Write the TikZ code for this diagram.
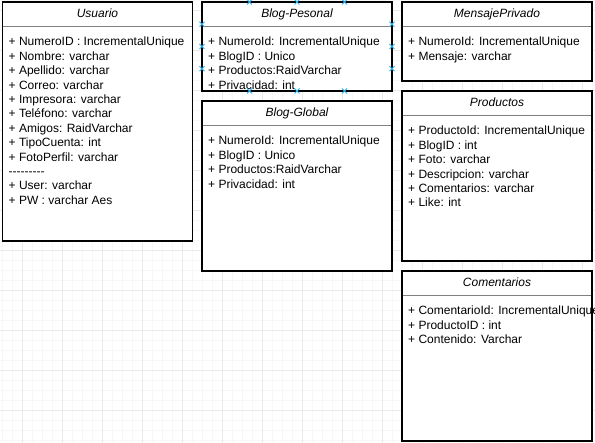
\documentclass[tikz,border=0pt]{standalone}
\usepackage{fontspec}
\setmainfont{Liberation Sans}
\usetikzlibrary{calc,shapes.misc}
\definecolor{gridmajor}{RGB}{234,234,234}
\definecolor{gridminor}{RGB}{247,247,247}
\definecolor{headgray}{RGB}{128,128,128}
\definecolor{selblue}{RGB}{41,182,242}
\tikzset{
  classbox/.style={draw=black, line width=1.1pt, fill=white, rectangle, anchor=north west, inner sep=0pt, outer sep=0pt},
  headline/.style={draw=headgray, line width=0.8pt},
  classtitle/.style={font=\fontsize{12}{14.4}\selectfont\itshape, anchor=base, inner sep=0pt},
  attr/.style={font=\fontsize{12}{14.4}\selectfont, anchor=base west, inner sep=0pt},
  selmark/.style={shape=coordinate},
  selcross/.style={draw=selblue, line width=1pt},
  minorline/.style={draw=gridminor, line width=1pt},
  majorline/.style={draw=gridmajor, line width=1pt},
}
\newcommand\sepline{-{}-{}-{}-{}-{}-{}-{}-{}-}
\newcommand\umlclass[7]{%
  \node[classbox, minimum width=#4pt, minimum height=#5pt] (#1) at (#2,#3) {};
  \draw[headline] ($(#1.north west)+(0.6,24.5)$) -- ($(#1.north east)+(-0.6,24.5)$);
  \node[classtitle] (#1-title) at ($(#1.north)+(0,16)$) {#6};
  \foreach \attrtext [count=\attrnum] in {#7} {%
    \pgfmathsetmacro\attry{44+14.4*(\attrnum-1)}%
    \node[attr] (#1-a\attrnum) at ($(#1.north west)+(6,\attry)$) {\attrtext};}
}
\newcommand\selx[1]{%
  \draw[selcross] ($(#1)+(-2.5,-2.5)$) -- ($(#1)+(2.5,2.5)$);
  \draw[selcross] ($(#1)+(-2.5,2.5)$) -- ($(#1)+(2.5,-2.5)$);
}
\begin{document}
\begin{tikzpicture}[x=1pt,y=-1pt]
\useasboundingbox (0,0) rectangle (595,443);
\clip (0,0) rectangle (595,443);
\fill[white] (0,0) rectangle (595,443);
% grid
\foreach \gx in {2,12,...,592} \draw[minorline] (\gx,0) -- (\gx,443);
\foreach \gy in {1,11,...,441} \draw[minorline] (0,\gy) -- (595,\gy);
\foreach \gx in {22,62,...,582} \draw[majorline] (\gx,0) -- (\gx,443);
\foreach \gy in {11,51,...,411} \draw[majorline] (0,\gy) -- (595,\gy);
% classes
\umlclass{usuario}{2.5}{2}{190}{239}{Usuario}{+ NumeroID : IncrementalUnique, + Nombre: varchar, + Apellido: varchar, + Correo: varchar, + Impresora: varchar, + Teléfono: varchar, + Amigos: RaidVarchar, + TipoCuenta: int, + FotoPerfil: varchar, \sepline, + User: varchar, + PW : varchar Aes}
\umlclass{bp}{202}{2}{190}{89}{Blog-Pesonal}{+ NumeroId: IncrementalUnique, + BlogID : Unico, + Productos:RaidVarchar, + Privacidad: int}
\umlclass{bg}{202}{101}{190}{170}{Blog-Global}{+ NumeroId: IncrementalUnique, + BlogID : Unico, + Productos:RaidVarchar, + Privacidad: int}
\umlclass{mp}{402}{2}{190}{79}{MensajePrivado}{+ NumeroId: IncrementalUnique, + Mensaje: varchar}
\umlclass{prod}{402}{91}{190}{170}{Productos}{+ ProductoId: IncrementalUnique, + BlogID : int, + Foto: varchar, + Descripcion: varchar, + Comentarios: varchar, + Like: int}
\umlclass{com}{402}{271}{190}{170}{Comentarios}{+ ComentarioId: IncrementalUnique, + ProductoID : int, + Contenido: Varchar}
% selection markers on Blog-Pesonal
\foreach \f [count=\k] in {0.25,0.5,0.75} {
  \node[selmark] (bp-t\k) at ($(bp.north west)!\f!(bp.north east)$) {};
  \node[selmark] (bp-b\k) at ($(bp.south west)!\f!(bp.south east)$) {};
  \node[selmark] (bp-l\k) at ($(bp.north west)!\f!(bp.south west)$) {};
  \node[selmark] (bp-r\k) at ($(bp.north east)!\f!(bp.south east)$) {};
  \selx{bp-t\k}\selx{bp-b\k}\selx{bp-l\k}\selx{bp-r\k}
}
\end{tikzpicture}
\end{document}
